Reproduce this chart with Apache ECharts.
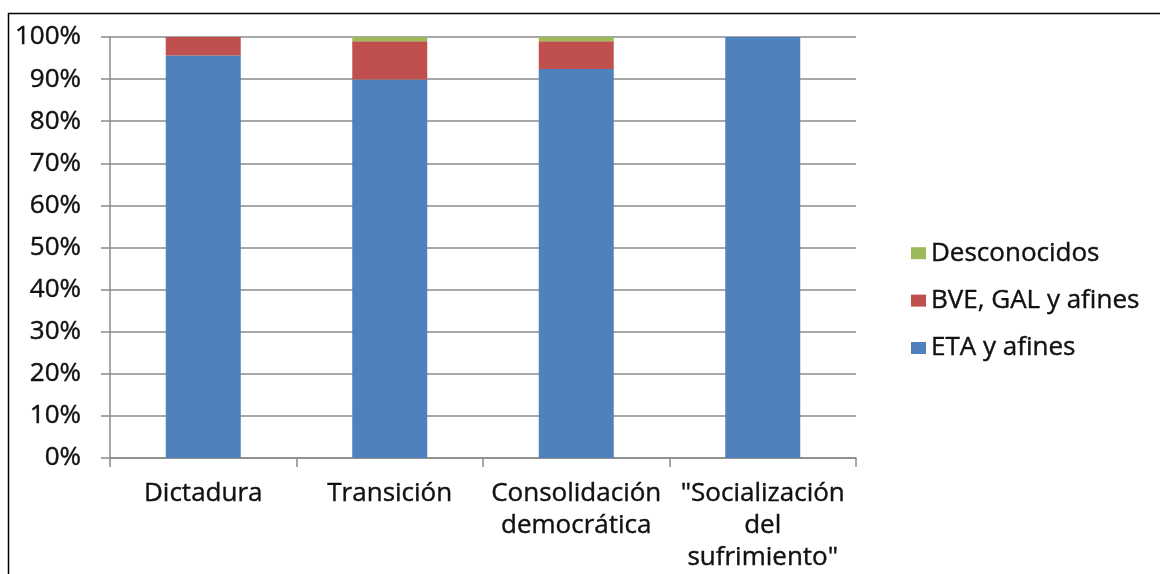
<!DOCTYPE html>
<html><head><meta charset="utf-8">
<script src="https://cdn.jsdelivr.net/npm/echarts@6/dist/echarts.min.js"></script>
<style>html,body{margin:0;padding:0;background:#fff}#c{width:1160px;height:574px}</style>
</head><body><div id="c"></div>
<script>
const categories = ['Dictadura', 'Transición', 'Consolidación\ndemocrática', '"Socialización\ndel\nsufrimiento"'];
const etaValues = [95.6, 89.9, 92.4, 100];
const bveValues = [4.4, 9.1, 6.6, 0];
const desconocidosValues = [0, 1.0, 1.0, 0];
const yTicks = [0, 10, 20, 30, 40, 50, 60, 70, 80, 90, 100];

const FONT = '"Open Sans", sans-serif';
const chart = echarts.init(document.getElementById('c'), null, {renderer: 'canvas'});
const axisGray = '#8a8a8a';
const txt = {fontFamily: FONT, fontSize: 26, color: '#111', textBorderColor: '#111', textBorderWidth: 0.4};
chart.setOption({
  animation: false,
  backgroundColor: '#fff',
  graphic: [{
    type: 'rect', shape: {x: 8.5, y: 13.5, width: 1300, height: 700},
    style: {fill: 'none', stroke: '#000', lineWidth: 1.5}, silent: true
  }],
  grid: {left: 110, right: 304, top: 37, bottom: 114, containLabel: false},
  legend: {
    orient: 'vertical', left: 906, top: 235, itemGap: 21,
    itemWidth: 15, itemHeight: 12, icon: 'rect', itemTextGap: 9,
    textStyle: Object.assign({}, txt),
    data: ['Desconocidos', 'BVE, GAL y afines', 'ETA y afines']
  },
  xAxis: {
    type: 'category', data: categories,
    axisLine: {lineStyle: {color: axisGray, width: 1.5}},
    axisTick: {show: true, length: 9, lineStyle: {color: axisGray, width: 1.5}},
    axisLabel: Object.assign({margin: 20, lineHeight: 32, interval: 0}, txt)
  },
  yAxis: {
    type: 'value', min: 0, max: 100, interval: 10,
    axisLine: {show: true, lineStyle: {color: axisGray, width: 1.5}},
    axisTick: {show: true, length: 9, lineStyle: {color: axisGray, width: 1.5}},
    splitLine: {lineStyle: {color: axisGray, width: 1.5}},
    axisLabel: Object.assign({margin: 29,
      formatter: v => (yTicks.includes(v) ? v + '%' : '')}, txt)
  },
  series: [
    {name: 'ETA y afines', type: 'bar', stack: 't', data: etaValues, barWidth: 75, itemStyle: {color: '#4F81BD'}},
    {name: 'BVE, GAL y afines', type: 'bar', stack: 't', data: bveValues, itemStyle: {color: '#C0504D'}},
    {name: 'Desconocidos', type: 'bar', stack: 't', data: desconocidosValues, itemStyle: {color: '#9BBB59'}}
  ]
});
</script></body></html>
